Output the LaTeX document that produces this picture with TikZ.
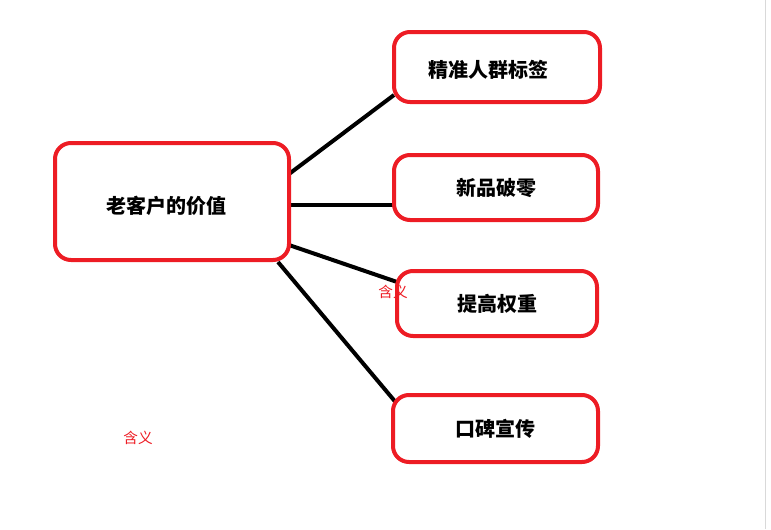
\documentclass[tikz,border=0pt]{standalone}
\usepackage{fontspec}
\newfontfamily\cjk{Noto Sans CJK SC}
\definecolor{paintred}{HTML}{ED1C24}
\tikzset{
  valuebox/.style={draw=paintred, line width=3pt, rounded corners=12pt, fill=white, font=\cjk\bfseries\fontsize{15}{18}\selectfont},
  link/.style={line width=3pt, black},
  note/.style={text=paintred, font=\cjk\fontsize{11}{13}\selectfont}
}
\begin{document}
\begin{tikzpicture}[x=0.75pt, y=-0.75pt]
\useasboundingbox (0,0) rectangle (771,529);
\draw[gray!30] (765,0) -- (765,529);
\coordinate (m1) at (289,174);
\coordinate (m2) at (289,205);
\coordinate (m3) at (289,245);
\coordinate (m4) at (278,262);

\draw[link] (m1) -- (394,95);
\draw[link] (m2) -- (394,205);
\draw[link] (m3) -- (400,283);
\draw[link] (m4) -- (398,405);

\node[valuebox, minimum width=175.5pt, minimum height=87.75pt] (main) at (172,201.5) {};
\node[font=\cjk\bfseries\fontsize{15}{18}\selectfont] (mainlabel) at (166,206) {老客户的价值};
\node[valuebox, minimum width=154.5pt, minimum height=52.5pt] (tag) at (497,67) {};
\node[font=\cjk\bfseries\fontsize{15}{18}\selectfont] (taglabel) at (488,70) {精准人群标签};
\node[valuebox, minimum width=153pt, minimum height=48.75pt] (zero) at (496,187.5) {新品破零};
\node[valuebox, minimum width=150pt, minimum height=48.75pt] (weight) at (497,303.5) {提高权重};
\node[valuebox, minimum width=153.75pt, minimum height=50.25pt] (word) at (495.5,428.5) {口碑宣传};

\node[note] (n1) at (393,292) {含义};
\node[note] (n2) at (138,438) {含义};
\end{tikzpicture}
\end{document}
